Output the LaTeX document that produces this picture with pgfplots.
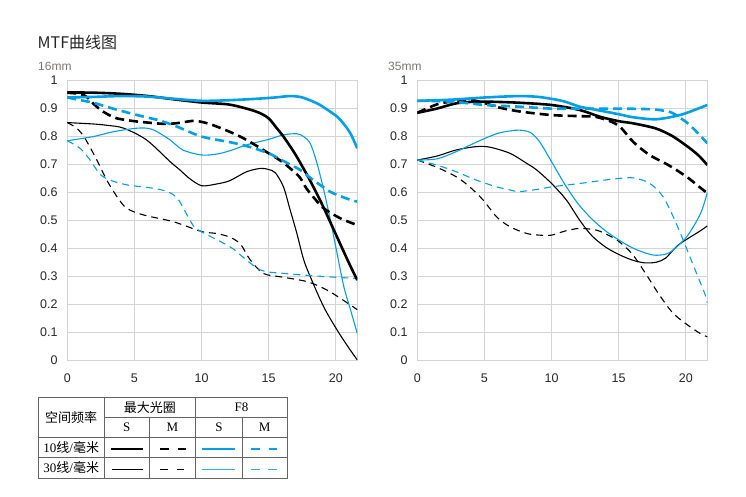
\documentclass[border=0pt]{standalone}
\usepackage{pgfplots}
\pgfplotsset{compat=1.18}
\usepackage{fontspec}
\setmainfont{Liberation Serif}
\newfontfamily\lsans{Liberation Sans}
\newfontfamily\cjk{Noto Sans CJK SC}
\definecolor{mtfblue}{RGB}{0,160,233}
\definecolor{gridc}{RGB}{212,212,212}
\definecolor{tabline}{RGB}{100,100,100}
\definecolor{sublab}{RGB}{125,118,112}

\pgfplotsset{
  mtf/.style={
    scale only axis, width=290pt, height=279.3pt,
    xmin=0, xmax=21.6, ymin=0, ymax=1,
    xtick={0,5,10,15,20},
    ytick={0,0.1,0.2,0.3,0.4,0.5,0.6,0.7,0.8,0.9,1},
    grid=major, grid style={draw=gridc, line width=0.9pt},
    axis line style={draw=gridc, line width=0.9pt},
    major tick length=0pt,
    tick label style={font=\lsans\fontsize{12.5}{12.5}\selectfont, text=black!85},
    /pgf/number format/assume math mode=true,
    yticklabel style={xshift=-6.3pt, /pgf/number format/fixed, /pgf/number format/precision=1},
    xticklabel style={yshift=-10.2pt},
  },
  ks/.style={black, line width=2.6pt, smooth},
  kd/.style={black, line width=2.6pt, smooth, dash pattern=on 9pt off 5pt},
  ts/.style={black, line width=1.1pt, smooth},
  td/.style={black, line width=1.1pt, smooth, dash pattern=on 7pt off 5pt},
  bs/.style={mtfblue, line width=2.6pt, smooth},
  bd/.style={mtfblue, line width=2.6pt, smooth, dash pattern=on 9pt off 5pt},
  bts/.style={mtfblue, line width=1.1pt, smooth},
  btd/.style={mtfblue, line width=1.1pt, smooth, dash pattern=on 7pt off 5pt},
}

\begin{document}
\begin{tikzpicture}
\path[use as bounding box] (0,0) rectangle (746pt,497pt);

% 16mm
\begin{axis}[mtf, at={(67.3pt,137pt)}, anchor=south west]
\addplot[ts] coordinates {(0,0.85) (1.94,0.845) (3,0.84) (4.2,0.83) (5.9,0.788) (7.66,0.71) (8.4,0.68) (9.1,0.65) (10,0.624) (11.1,0.63) (12.1,0.642) (13.35,0.674) (14.4,0.686) (15,0.682) (15.5,0.67) (16.1,0.62) (16.6,0.537) (17.1,0.453) (17.6,0.36) (18.1,0.298) (19.1,0.19) (20.1,0.107) (20.9,0.048) (21.6,0)};
\addplot[td] coordinates {(0,0.85) (0.7,0.83) (1.3,0.795) (2.2,0.716) (2.94,0.644) (3.7,0.585) (4.43,0.543) (5.7,0.519) (7.9,0.495) (10,0.46) (11.1,0.453) (12.1,0.44) (12.9,0.415) (13.6,0.36) (14.6,0.31) (16,0.297) (17.9,0.28) (19.36,0.25) (20.9,0.203) (21.6,0.18)};
\addplot[bts] coordinates {(0,0.785) (1.94,0.80) (3.4,0.817) (5.2,0.83) (6.3,0.826) (7.6,0.79) (8.6,0.752) (10,0.734) (11.1,0.737) (12.1,0.749) (13.35,0.77) (15,0.79) (16.1,0.806) (17.1,0.81) (17.6,0.80) (18.1,0.775) (18.6,0.704) (19.1,0.609) (19.6,0.50) (20.1,0.38) (20.6,0.262) (21.1,0.179) (21.6,0.095)};
\addplot[btd] coordinates {(0,0.785) (0.95,0.758) (1.7,0.716) (2.44,0.665) (3.2,0.644) (4.43,0.627) (6.4,0.615) (7.5,0.602) (8.2,0.579) (8.8,0.53) (9.4,0.48) (10,0.459) (12.1,0.406) (13,0.372) (14.4,0.322) (16.1,0.31) (19.4,0.298) (21.6,0.292)};
\addplot[ks] coordinates {(0,0.958) (2,0.957) (4,0.953) (6,0.945) (8,0.933) (10,0.922) (12,0.915) (13.35,0.90) (14.3,0.885) (15,0.865) (15.6,0.83) (16.1,0.80) (17,0.735) (18,0.65) (19,0.555) (20,0.45) (21,0.345) (21.6,0.286)};
\addplot[kd] coordinates {(0,0.957) (1,0.952) (1.5,0.94) (2,0.915) (2.5,0.895) (3,0.88) (3.7,0.865) (5,0.855) (6,0.85) (7,0.846) (8,0.847) (9,0.854) (9.6,0.856) (10.6,0.845) (12.1,0.817) (13.35,0.788) (15,0.74) (16,0.71) (16.6,0.686) (17.3,0.655) (17.8,0.615) (18.3,0.585) (19.1,0.543) (20.35,0.507) (21.6,0.483)};
\addplot[bs] coordinates {(0,0.94) (2,0.942) (4,0.945) (6,0.943) (8,0.935) (10,0.928) (12,0.93) (14,0.935) (15.5,0.94) (16.6,0.945) (17.5,0.94) (18.6,0.919) (19.4,0.895) (20.1,0.871) (20.6,0.845) (21.1,0.81) (21.6,0.758)};
\addplot[bd] coordinates {(0,0.94) (1,0.93) (1.94,0.921) (3.4,0.90) (5.2,0.877) (6.9,0.857) (8.2,0.835) (10,0.80) (12.1,0.78) (13.35,0.766) (15,0.74) (16,0.715) (17.37,0.68) (18,0.656) (19.36,0.609) (20,0.593) (21,0.575) (21.6,0.567)};
\end{axis}

% 35mm
\begin{axis}[mtf, at={(417.3pt,137pt)}, anchor=south west]
\addplot[ts] coordinates {(0,0.716) (1.45,0.73) (2.9,0.752) (4.4,0.764) (5.4,0.762) (6.9,0.74) (8.15,0.704) (8.9,0.68) (10,0.632) (11.1,0.573) (12.1,0.50) (13,0.445) (14,0.405) (15,0.378) (16,0.358) (16.9,0.348) (17.8,0.35) (18.5,0.365) (19.3,0.406) (20.06,0.432) (21,0.46) (21.6,0.48)};
\addplot[td] coordinates {(0,0.716) (1.45,0.69) (2.9,0.656) (3.9,0.62) (4.9,0.573) (5.9,0.513) (6.9,0.477) (8.15,0.453) (9.1,0.447) (10,0.447) (11.1,0.463) (12.1,0.471) (13.35,0.465) (14.3,0.445) (15,0.425) (16,0.38) (17,0.31) (18,0.235) (19,0.17) (20,0.13) (21,0.097) (21.6,0.083)};
\addplot[bts] coordinates {(0,0.716) (1.45,0.72) (2.9,0.746) (4.4,0.78) (5.9,0.81) (6.9,0.82) (7.6,0.823) (8.4,0.815) (9.1,0.782) (10,0.71) (11,0.628) (12,0.558) (13,0.505) (14,0.463) (15,0.43) (16,0.402) (17,0.383) (17.8,0.375) (18.8,0.385) (20.06,0.441) (21.1,0.525) (21.6,0.6)};
\addplot[btd] coordinates {(0,0.716) (1.45,0.698) (2.9,0.674) (4.4,0.644) (5.9,0.62) (6.9,0.609) (7.6,0.603) (9.1,0.612) (10,0.62) (12.1,0.632) (14.1,0.645) (15,0.65) (16.1,0.652) (17.3,0.633) (18.3,0.585) (19.06,0.513) (19.8,0.43) (20.6,0.334) (21.4,0.239) (21.6,0.205)};
\addplot[ks] coordinates {(0,0.885) (1.45,0.90) (2.9,0.919) (4.4,0.925) (6,0.924) (7.6,0.921) (10,0.913) (12.1,0.895) (13.6,0.871) (15,0.855) (16,0.848) (17.3,0.835) (18,0.825) (19.06,0.80) (20.3,0.758) (21,0.73) (21.6,0.698)};
\addplot[kd] coordinates {(0,0.885) (1.45,0.915) (2.5,0.925) (3.9,0.931) (5,0.92) (6,0.905) (7.6,0.89) (10,0.877) (12.1,0.873) (13.35,0.87) (14.6,0.85) (15.2,0.83) (16.1,0.78) (17.3,0.734) (18.7,0.698) (20.06,0.656) (21,0.62) (21.6,0.597)};
\addplot[bs] coordinates {(0,0.928) (2.5,0.932) (5.07,0.94) (7.6,0.945) (9,0.942) (10,0.935) (11,0.925) (12.1,0.907) (13.6,0.893) (15,0.88) (16.1,0.869) (17.8,0.862) (19.56,0.877) (20.8,0.898) (21.6,0.913)};
\addplot[bd] coordinates {(0,0.928) (2.5,0.925) (5.07,0.913) (7.6,0.907) (10,0.9) (12.1,0.9) (15,0.9) (17.3,0.898) (18.3,0.893) (19.06,0.883) (20.3,0.841) (21.6,0.776)};
\end{axis}

% titles
\node[anchor=west, inner sep=0pt, text=black!85, font=\cjk\fontsize{16}{16}\selectfont] at (37.5pt,455pt) {MTF曲线图};
\node[anchor=west, inner sep=0pt, text=sublab, font=\lsans\fontsize{12}{12}\selectfont] at (38pt,431pt) {16mm};
\node[anchor=west, inner sep=0pt, text=sublab, font=\lsans\fontsize{12}{12}\selectfont] at (388pt,431pt) {35mm};

% legend table
\begin{scope}[draw=tabline, line width=0.8pt]
\draw (38.3pt,18.7pt) rectangle (287.3pt,99.7pt);
\draw (104pt,79.7pt) -- (287.3pt,79.7pt);
\draw (38.3pt,59.7pt) -- (287.3pt,59.7pt);
\draw (38.3pt,39.3pt) -- (287.3pt,39.3pt);
\draw (104pt,18.7pt) -- (104pt,99.7pt);
\draw (195.7pt,18.7pt) -- (195.7pt,99.7pt);
\draw (149.3pt,18.7pt) -- (149.3pt,79.7pt);
\draw (242pt,18.7pt) -- (242pt,79.7pt);
\end{scope}
\begin{scope}[every node/.style={inner sep=0pt, font=\fontsize{13}{13}\selectfont}]
\node at (71.2pt,79.7pt) {\cjk 空间频率};
\node at (149.9pt,89.7pt) {\cjk 最大光圈};
\node at (241.5pt,89.7pt) {F8};
\node at (126.7pt,69.7pt) {S};
\node at (172.5pt,69.7pt) {M};
\node at (218.9pt,69.7pt) {S};
\node at (264.7pt,69.7pt) {M};
\node at (71.2pt,49.5pt) {10{\cjk 线}/{\cjk 毫米}};
\node at (71.2pt,29pt) {30{\cjk 线}/{\cjk 毫米}};
\end{scope}
\draw[black, line width=2pt] (111pt,47.7pt) -- (143.3pt,47.7pt);
\draw[black, line width=2pt, dash pattern=on 8.5pt off 9pt] (160pt,47.7pt) -- (186.7pt,47.7pt);
\draw[mtfblue, line width=2pt] (202pt,47.7pt) -- (234.7pt,47.7pt);
\draw[mtfblue, line width=2pt, dash pattern=on 8.7pt off 8.7pt] (251.3pt,47.7pt) -- (277.3pt,47.7pt);
\draw[black, line width=0.9pt] (111.7pt,27.7pt) -- (143.3pt,27.7pt);
\draw[black, line width=0.9pt, dash pattern=on 7.5pt off 9pt] (160pt,27.7pt) -- (185pt,27.7pt);
\draw[mtfblue!80, line width=0.9pt] (202pt,27.7pt) -- (234.7pt,27.7pt);
\draw[mtfblue!80, line width=0.9pt, dash pattern=on 8.5pt off 8.5pt] (251.3pt,27.7pt) -- (277.3pt,27.7pt);
\end{tikzpicture}
\end{document}
